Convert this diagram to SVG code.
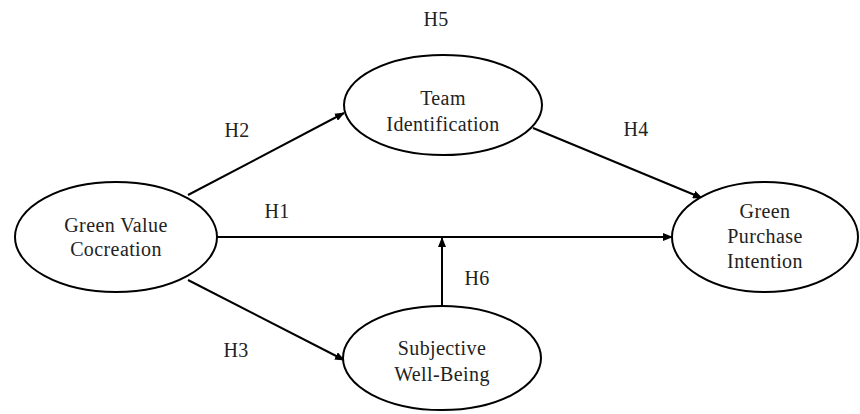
<svg xmlns="http://www.w3.org/2000/svg" width="860" height="414" viewBox="0 0 860 414">
<defs>
<marker id="ah" markerWidth="10" markerHeight="8" refX="9" refY="4" orient="auto" markerUnits="userSpaceOnUse">
<path d="M0,0 L10,4 L0,8 Z" fill="#000"/>
</marker>
<style>
.n{fill:#fff;stroke:#000;stroke-width:2}
.t{font-family:"Liberation Serif","DejaVu Serif",serif;font-size:20px;letter-spacing:0.4px;fill:#222;text-anchor:middle}
.c{stroke:#000;stroke-width:2;fill:none;marker-end:url(#ah)}
</style>
</defs>
<rect width="860" height="414" fill="#fff"/>
<g id="connectors">
<line class="c" x1="188" y1="195" x2="344" y2="113"/>
<line class="c" x1="217" y1="237" x2="672" y2="237"/>
<line class="c" x1="188" y1="280" x2="344" y2="360"/>
<line class="c" x1="533" y1="128" x2="702" y2="198"/>
<line class="c" x1="442" y1="306" x2="442" y2="238"/>
</g>
<g id="labels">
<text class="t" x="436" y="26">H5</text>
<text class="t" x="237" y="137">H2</text>
<text class="t" x="636" y="136">H4</text>
<text class="t" x="277" y="218">H1</text>
<text class="t" x="477" y="285">H6</text>
<text class="t" x="236" y="357">H3</text>
</g>
<g id="gvc">
<ellipse class="n" cx="116" cy="237" rx="101" ry="55"/>
<text class="t" x="116" y="232">Green Value</text>
<text class="t" x="116" y="256">Cocreation</text>
</g>
<g id="ti">
<ellipse class="n" cx="443" cy="105" rx="99" ry="50"/>
<text class="t" x="443" y="105">Team</text>
<text class="t" x="443" y="131">Identification</text>
</g>
<g id="gpi">
<ellipse class="n" cx="765" cy="237" rx="93" ry="55"/>
<text class="t" x="765" y="218">Green</text>
<text class="t" x="765" y="243">Purchase</text>
<text class="t" x="765" y="268">Intention</text>
</g>
<g id="swb">
<ellipse class="n" cx="442" cy="358" rx="99" ry="52"/>
<text class="t" x="442" y="355">Subjective</text>
<text class="t" x="442" y="381">Well-Being</text>
</g>
</svg>
